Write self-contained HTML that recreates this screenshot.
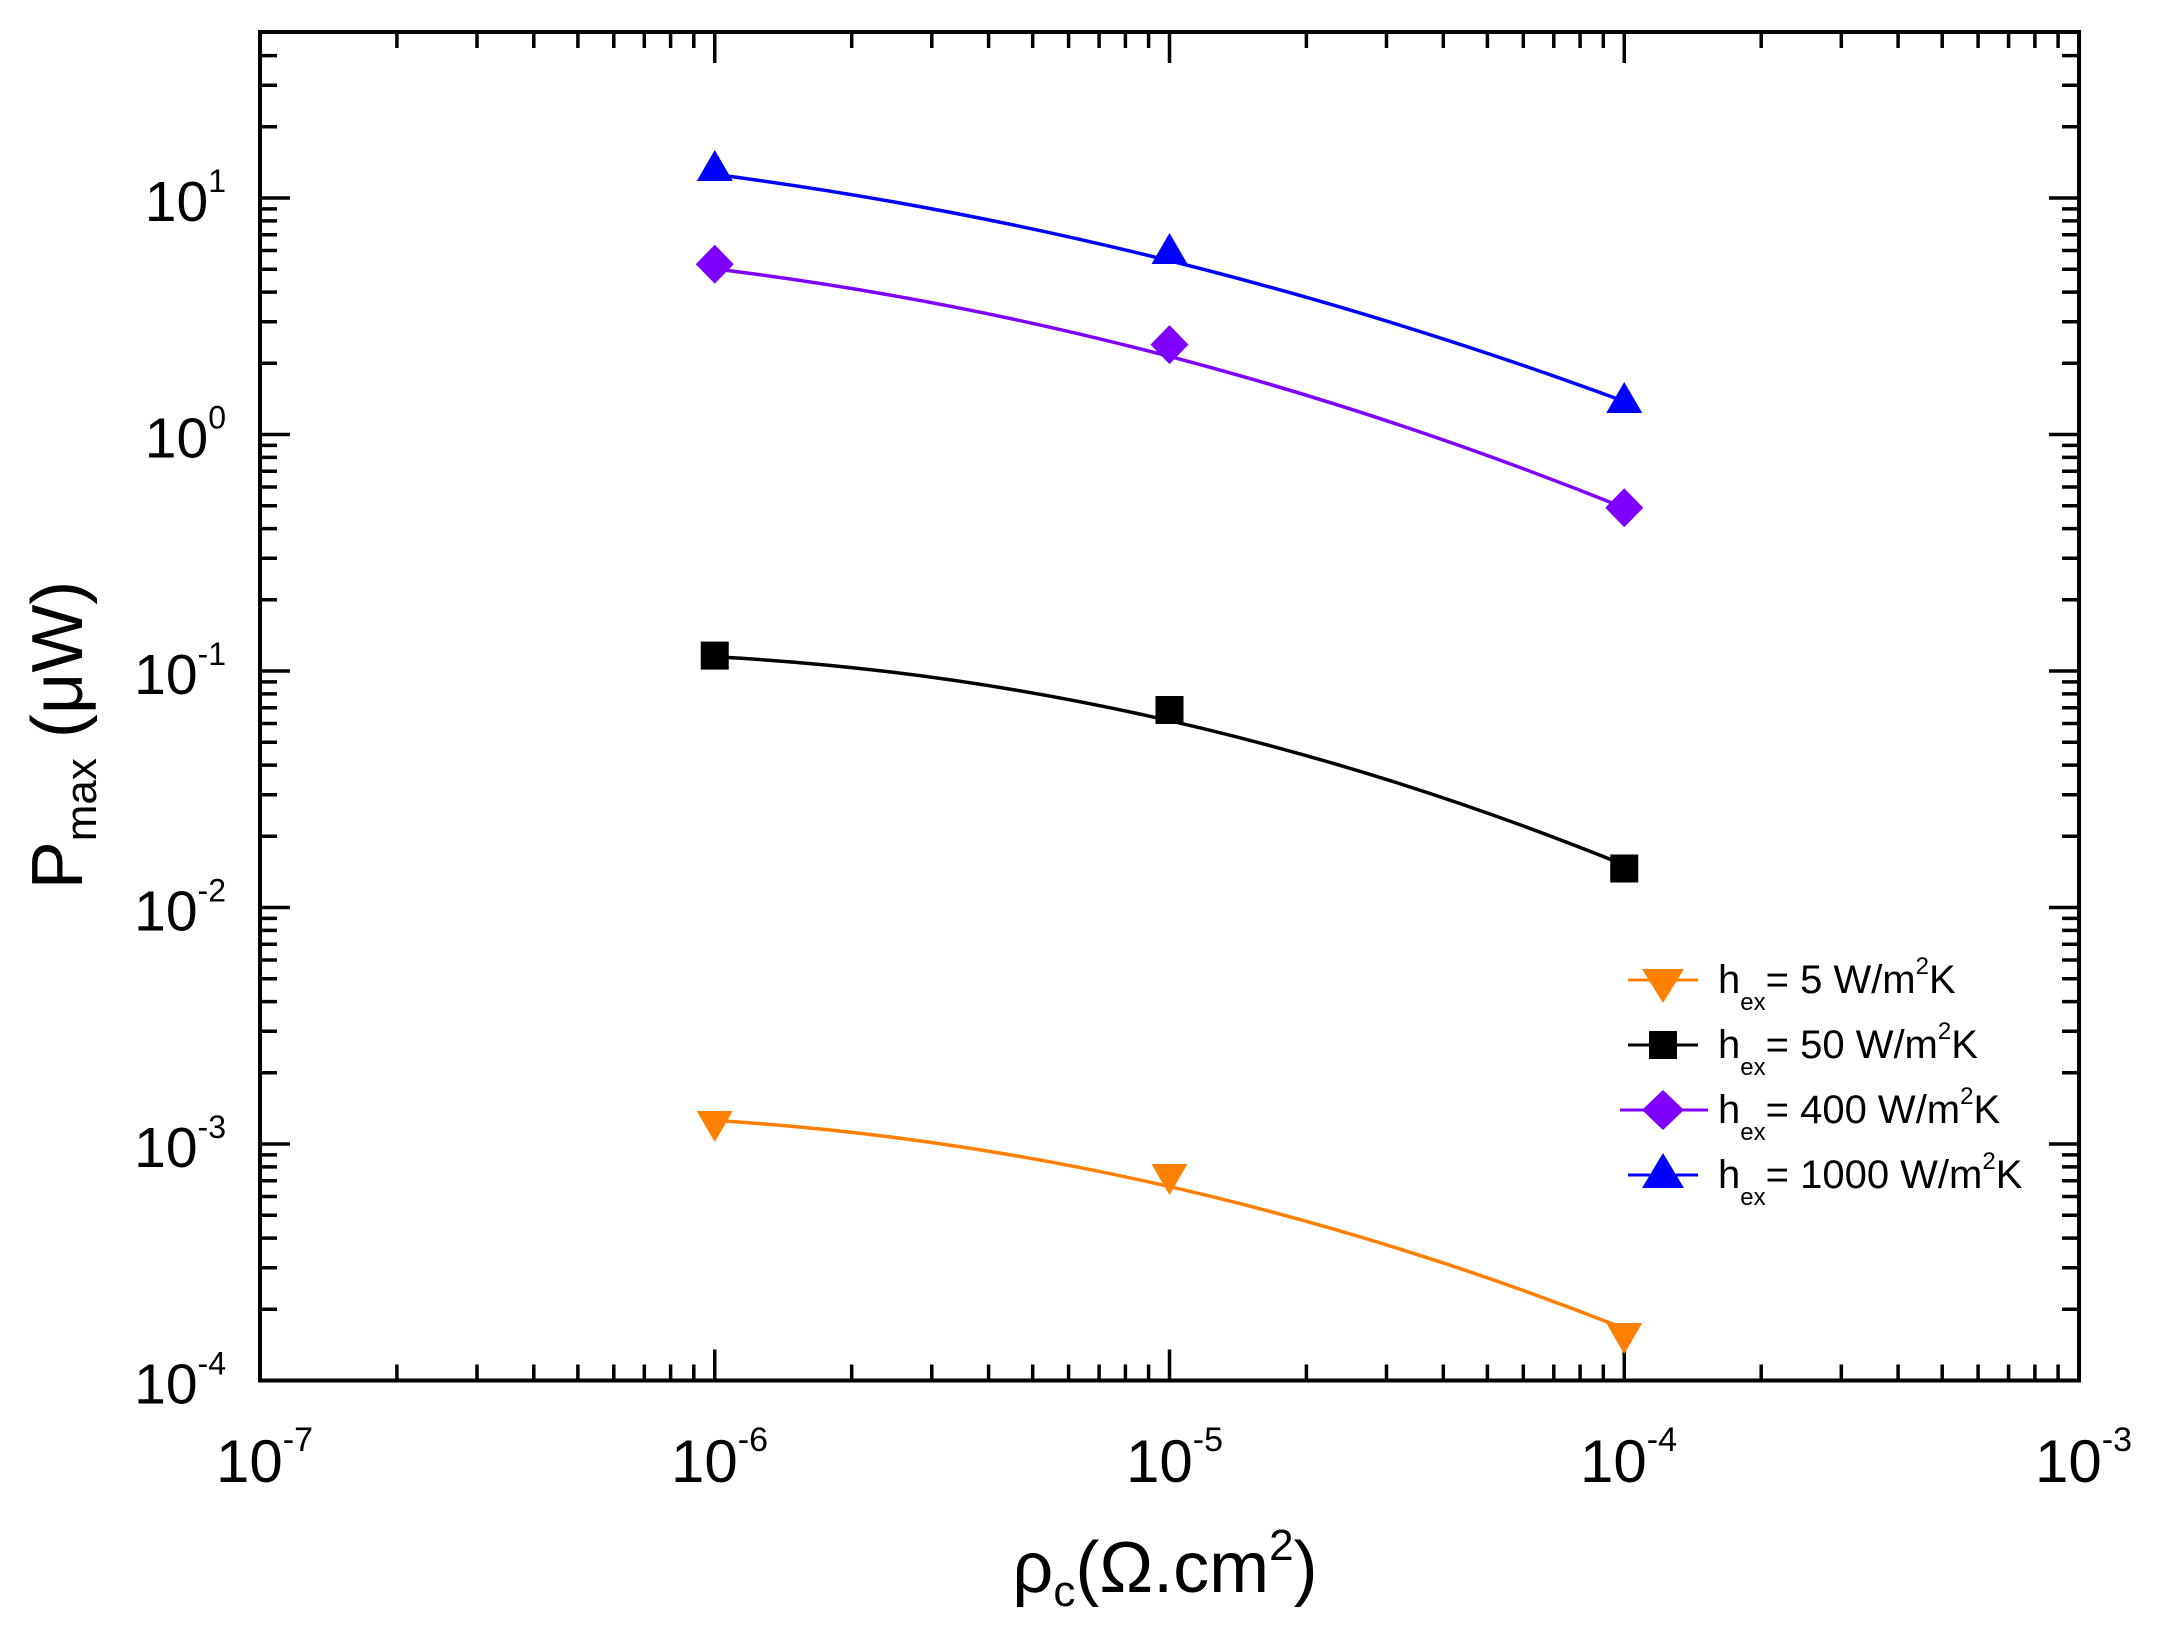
<!DOCTYPE html>
<html><head><meta charset="utf-8"><style>
html,body{margin:0;padding:0;background:#fff;}
svg{display:block;font-family:"Liberation Sans",Arial,sans-serif;}
</style></head><body>
<svg width="2164" height="1651" viewBox="0 0 2164 1651" xmlns="http://www.w3.org/2000/svg">
<rect width="2164" height="1651" fill="#fff"/>
<g stroke="#000" stroke-width="3.5" fill="none">
<path d="M714.75,1380.5v-31M1169.5,1380.5v-31M1624.25,1380.5v-31
M714.75,32v31M1169.5,32v31M1624.25,32v31
M260,198h30M260,434.5h30M260,671h30M260,907.5h30M260,1144h30
M2079,198h-30M2079,434.5h-30M2079,671h-30M2079,907.5h-30M2079,1144h-30"/>
<path d="M396.9,1380.5v-16M477,1380.5v-16M533.8,1380.5v-16M577.9,1380.5v-16M613.8,1380.5v-16M644.3,1380.5v-16M670.6,1380.5v-16M693.8,1380.5v-16
M851.7,1380.5v-16M931.8,1380.5v-16M988.6,1380.5v-16M1032.7,1380.5v-16M1068.6,1380.5v-16M1099.1,1380.5v-16M1125.4,1380.5v-16M1148.6,1380.5v-16
M1306.4,1380.5v-16M1386.5,1380.5v-16M1443.3,1380.5v-16M1487.4,1380.5v-16M1523.3,1380.5v-16M1553.8,1380.5v-16M1580.1,1380.5v-16M1603.3,1380.5v-16
M1761.2,1380.5v-16M1841.3,1380.5v-16M1898.1,1380.5v-16M1942.2,1380.5v-16M1978.1,1380.5v-16M2008.6,1380.5v-16M2034.9,1380.5v-16M2058.1,1380.5v-16
M396.9,32v16M477,32v16M533.8,32v16M577.9,32v16M613.8,32v16M644.3,32v16M670.6,32v16M693.8,32v16
M851.7,32v16M931.8,32v16M988.6,32v16M1032.7,32v16M1068.6,32v16M1099.1,32v16M1125.4,32v16M1148.6,32v16
M1306.4,32v16M1386.5,32v16M1443.3,32v16M1487.4,32v16M1523.3,32v16M1553.8,32v16M1580.1,32v16M1603.3,32v16
M1761.2,32v16M1841.3,32v16M1898.1,32v16M1942.2,32v16M1978.1,32v16M2008.6,32v16M2034.9,32v16M2058.1,32v16"/>
<path d="M260,1309.3h17M260,1267.7h17M260,1238.1h17M260,1215.2h17M260,1196.5h17M260,1180.7h17M260,1166.9h17M260,1154.9h17
M260,1072.8h17M260,1031.2h17M260,1001.6h17M260,978.7h17M260,960h17M260,944.2h17M260,930.4h17M260,918.4h17
M260,836.3h17M260,794.7h17M260,765.1h17M260,742.2h17M260,723.5h17M260,707.7h17M260,693.9h17M260,681.9h17
M260,599.8h17M260,558.2h17M260,528.6h17M260,505.7h17M260,487h17M260,471.2h17M260,457.4h17M260,445.4h17
M260,363.3h17M260,321.7h17M260,292.1h17M260,269.2h17M260,250.5h17M260,234.7h17M260,220.9h17M260,208.9h17
M260,126.8h17M260,85.2h17M260,55.6h17
M2079,1309.3h-17M2079,1267.7h-17M2079,1238.1h-17M2079,1215.2h-17M2079,1196.5h-17M2079,1180.7h-17M2079,1166.9h-17M2079,1154.9h-17
M2079,1072.8h-17M2079,1031.2h-17M2079,1001.6h-17M2079,978.7h-17M2079,960h-17M2079,944.2h-17M2079,930.4h-17M2079,918.4h-17
M2079,836.3h-17M2079,794.7h-17M2079,765.1h-17M2079,742.2h-17M2079,723.5h-17M2079,707.7h-17M2079,693.9h-17M2079,681.9h-17
M2079,599.8h-17M2079,558.2h-17M2079,528.6h-17M2079,505.7h-17M2079,487h-17M2079,471.2h-17M2079,457.4h-17M2079,445.4h-17
M2079,363.3h-17M2079,321.7h-17M2079,292.1h-17M2079,269.2h-17M2079,250.5h-17M2079,234.7h-17M2079,220.9h-17M2079,208.9h-17
M2079,126.8h-17M2079,85.2h-17M2079,55.6h-17"/>
</g>
<rect x="260" y="32" width="1819" height="1348.5" fill="none" stroke="#000" stroke-width="4"/>
<g fill="none" stroke-width="3.5">
<path d="M714.75,174.4 Q1169.5,233.5 1624.25,401.4" stroke="#0000FF"/>
<path d="M714.75,268.9 Q1169.5,324.5 1624.25,507.8" stroke="#8000FF"/>
<path d="M714.75,656.8 Q1169.5,680.5 1624.25,864.9" stroke="#000"/>
<path d="M714.75,1120.4 Q1169.5,1148.7 1624.25,1328.5" stroke="#FF8000"/>
</g>
<g fill="#0000FF">
<path d="M714.75,150 l18,31 h-36z"/><path d="M1169.5,233 l18,31 h-36z"/><path d="M1624.25,382 l18,31 h-36z"/>
</g>
<g fill="#8000FF">
<path d="M714.75,244.7 l19,19.5 l-19,19.5 l-19,-19.5z"/><path d="M1169.5,325.1 l19,19.5 l-19,19.5 l-19,-19.5z"/><path d="M1624.25,488.3 l19,19.5 l-19,19.5 l-19,-19.5z"/>
</g>
<g fill="#000">
<rect x="700.75" y="641.6" width="28" height="28"/><rect x="1155.5" y="696" width="28" height="28"/><rect x="1610.25" y="854.5" width="28" height="28"/>
</g>
<g fill="#FF8000">
<path d="M714.75,1142 l18,-31 h-36z"/><path d="M1169.5,1195 l18,-31 h-36z"/><path d="M1624.25,1354 l18,-31 h-36z"/>
</g>
<g font-size="57" fill="#000" text-anchor="end">
<text x="226" y="221">10<tspan font-size="32" dy="-29">1</tspan></text>
<text x="226" y="457.5">10<tspan font-size="32" dy="-29">0</tspan></text>
<text x="226" y="694">10<tspan font-size="32" dy="-29">-1</tspan></text>
<text x="226" y="930.5">10<tspan font-size="32" dy="-29">-2</tspan></text>
<text x="226" y="1167">10<tspan font-size="32" dy="-29">-3</tspan></text>
<text x="226" y="1403.5">10<tspan font-size="32" dy="-29">-4</tspan></text>
</g>
<g font-size="60" fill="#000">
<text x="216" y="1482">10<tspan font-size="34" dy="-31">-7</tspan></text>
<text x="671" y="1482">10<tspan font-size="34" dy="-31">-6</tspan></text>
<text x="1126" y="1482">10<tspan font-size="34" dy="-31">-5</tspan></text>
<text x="1580" y="1482">10<tspan font-size="34" dy="-31">-4</tspan></text>
<text x="2035" y="1482">10<tspan font-size="34" dy="-31">-3</tspan></text>
</g>
<text x="1165" y="1592" font-size="72" text-anchor="middle" fill="#000">ρ<tspan font-size="44" dy="14">c</tspan><tspan dy="-14">(Ω.cm</tspan><tspan font-size="44" dy="-32">2</tspan><tspan dy="32">)</tspan></text>
<text transform="translate(82,735) rotate(-90)" font-size="72" text-anchor="middle" fill="#000">P<tspan font-size="44" dy="14">max</tspan><tspan dy="-14"> (μW)</tspan></text>
<g stroke-width="3">
<path d="M1628,980h22M1676,980h22" stroke="#FF8000"/>
<path d="M1628,1045h22M1676,1045h22" stroke="#000"/>
<path d="M1620,1110h88" stroke="#8000FF"/>
<path d="M1628,1175h22M1676,1175h22" stroke="#0000FF"/>
</g>
<path d="M1663,1003 l21,-34 h-42z" fill="#FF8000"/>
<rect x="1649" y="1031" width="28" height="28" fill="#000"/>
<path d="M1663,1090 l21,20 l-21,20 l-21,-20z" fill="#8000FF"/>
<path d="M1663,1153 l21,35 h-42z" fill="#0000FF"/>
<g font-size="40" fill="#000">
<text x="1718" y="993">h<tspan font-size="24" dy="17">ex</tspan><tspan dy="-17">= 5 W/m</tspan><tspan font-size="24" dy="-19">2</tspan><tspan dy="19">K</tspan></text>
<text x="1718" y="1058">h<tspan font-size="24" dy="17">ex</tspan><tspan dy="-17">= 50 W/m</tspan><tspan font-size="24" dy="-19">2</tspan><tspan dy="19">K</tspan></text>
<text x="1718" y="1123">h<tspan font-size="24" dy="17">ex</tspan><tspan dy="-17">= 400 W/m</tspan><tspan font-size="24" dy="-19">2</tspan><tspan dy="19">K</tspan></text>
<text x="1718" y="1188">h<tspan font-size="24" dy="17">ex</tspan><tspan dy="-17">= 1000 W/m</tspan><tspan font-size="24" dy="-19">2</tspan><tspan dy="19">K</tspan></text>
</g>
</svg>
</body></html>
